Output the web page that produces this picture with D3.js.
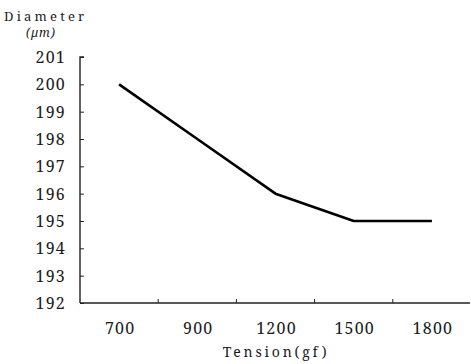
<!DOCTYPE html>
<html><head><meta charset="utf-8">
<script src="https://cdn.jsdelivr.net/npm/d3@7"></script>
<style>body{margin:0;background:#fff}svg{display:block}</style>
</head><body><svg id="c" width="471" height="364"></svg>
<script>
const categories = ["700","900","1200","1500","1800"];
const diameter = [200, 198, 196, 195, 195];
const yTicks = [192,193,194,195,196,197,198,199,200,201];
const yTitle1 = "Diameter";
const yTitle2 = "(\u03bcm)";
const xTitle = "Tension(gf)";
const FONT = "Noto Serif";

const svg = d3.select("#c");
const x = d3.scaleBand().domain(categories).range([80, 471]);
const y = d3.scaleLinear().domain([192, 201]).range([303, 57]);

// y axis
const ya = svg.append("g").attr("transform","translate(80,0)")
  .call(d3.axisRight(y).tickValues(yTicks).tickSize(4).tickFormat(""));
ya.select(".domain").attr("stroke","#222").attr("stroke-width",1.4).attr("d","M4,57H0V303");
ya.selectAll(".tick line").attr("stroke","#222");
svg.append("g").selectAll("text").data(yTicks).join("text")
  .attr("x",66).attr("y",d=>y(d)+6).attr("text-anchor","end")
  .attr("font-family",FONT).attr("fill","#1a1a1a")
  .attr("font-size",16).style("letter-spacing","1.2px").text(d=>d);

// x axis
const xa = svg.append("g").attr("transform","translate(0,303)")
  .call(d3.axisTop(x).tickSize(0).tickFormat(""));
xa.select(".domain").attr("stroke","#222").attr("stroke-width",1.4).attr("d","M80,0H470");
svg.append("g").selectAll("line").data(categories.slice(1)).join("line")
  .attr("x1",d=>x(d)).attr("x2",d=>x(d)).attr("y1",303).attr("y2",299)
  .attr("stroke","#222");
svg.append("g").selectAll("text").data(categories).join("text")
  .attr("x",d=>x(d)+x.bandwidth()/2+1).attr("y",334).attr("text-anchor","middle")
  .attr("font-family",FONT).attr("fill","#1a1a1a")
  .attr("font-size",16).style("letter-spacing","1.2px").text(d=>d);

svg.append("text").attr("x",4).attr("y",21).attr("font-family",FONT).attr("fill","#1a1a1a")
  .attr("font-size",13).style("letter-spacing","3.2px").text(yTitle1);
svg.append("text").attr("x",26).attr("y",37).attr("font-family",FONT).attr("fill","#1a1a1a")
  .attr("font-size",12).attr("font-style","italic").style("letter-spacing","1px").text(yTitle2);
svg.append("text").attr("x",276).attr("y",357).attr("text-anchor","middle").attr("font-family",FONT).attr("fill","#1a1a1a")
  .attr("font-size",14).style("letter-spacing","2.8px").text(xTitle);

svg.append("path").datum(diameter)
  .attr("fill","none").attr("stroke","#000").attr("stroke-width",2.6).attr("stroke-linejoin","round")
  .attr("d", d3.line().x((d,i)=>x(categories[i])+x.bandwidth()/2).y(d=>y(d)));
</script></body></html>
